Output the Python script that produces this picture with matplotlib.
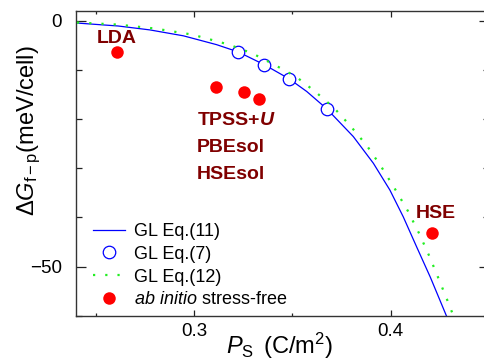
import numpy as np
import matplotlib
matplotlib.use("Agg")
import matplotlib.pyplot as plt

plt.rcParams["font.family"] = ["Liberation Sans", "DejaVu Sans"]
plt.rcParams["mathtext.fontset"] = "custom"
plt.rcParams["mathtext.rm"] = "Liberation Sans"
plt.rcParams["mathtext.it"] = "Liberation Sans:italic"
plt.rcParams["mathtext.bf"] = "Liberation Sans:bold"
plt.rcParams["mathtext.bfit"] = "Liberation Sans:italic:bold"

# --- data -------------------------------------------------------------------
# GL Eq.(11): solid curve
p_eq11 = [0.2405, 0.2614, 0.2776, 0.2946, 0.3115, 0.3225, 0.3357, 0.3483, 0.3573,
          0.3675, 0.3810, 0.3912, 0.3996, 0.4064, 0.4132, 0.4202, 0.4284]
g_eq11 = [-0.45, -1.05, -1.85, -3.05, -4.85, -6.33, -8.92, -11.78, -14.37,
          -17.90, -23.55, -28.98, -34.43, -39.88, -45.99, -52.20, -60.08]

# GL Eq.(7): open circles
p_eq7 = [0.3225, 0.3357, 0.3483, 0.3675]
g_eq7 = [-6.33, -8.92, -11.78, -17.90]

# GL Eq.(12): dotted curve
p_eq12 = [0.2405, 0.2612, 0.2802, 0.2991, 0.3178, 0.3296, 0.3408, 0.3519, 0.3619,
          0.3713, 0.3798, 0.3880, 0.3954, 0.4022, 0.4087, 0.4144, 0.4196, 0.4245,
          0.4293, 0.4322]
g_eq12 = [-0.35, -0.76, -1.57, -2.80, -4.84, -6.61, -8.92, -11.37, -14.49,
          -17.76, -21.51, -25.45, -29.80, -34.22, -38.65, -43.20, -47.83, -52.59,
          -57.34, -60.35]

# ab initio stress-free results
p_abi = [0.2607, 0.3110, 0.3253, 0.3332, 0.4211]
g_abi = [-6.41, -13.55, -14.49, -15.92, -43.14]

DARKRED = "#800000"

fig = plt.figure(figsize=(4.85, 3.63), dpi=100)
ax = fig.add_axes([76 / 485, 1 - 315.7 / 363, 413 / 485, 304.7 / 363])

ax.plot(p_eq11, g_eq11, color="#0000ff", lw=0.9, label="GL Eq.(11)", zorder=2)
ax.plot(p_eq7, g_eq7, ls="none", marker="o", ms=9, mfc="white", mec="#0000ff",
        mew=0.9, label="GL Eq.(7)", zorder=3)
ax.plot(p_eq12, g_eq12, color="#22ee22", lw=1.6, ls=(0, (1, 4.5)),
        label="GL Eq.(12)", zorder=4)
ax.plot(p_abi, g_abi, ls="none", marker="o", ms=9, color="#ff0000", mec="none",
        label=r"$\mathit{ab\ initio}$ stress-free", zorder=5)

kw = dict(color=DARKRED, fontsize=14, fontweight="bold")
ax.text(0.2606, -3.51, "LDA", ha="center", va="center", **kw)
ax.text(0.3015, -20.35, r"TPSS+$\mathbfit{U}$", ha="left", va="center", **kw)
ax.text(0.3015, -25.86, "PBEsol", ha="left", va="center", **kw)
ax.text(0.3015, -31.37, "HSEsol", ha="left", va="center", **kw)
ax.text(0.4230, -39.12, "HSE", ha="center", va="center", **kw)

ax.set_xlim(0.24, 0.45)
ax.set_ylim(-60, 2)
ax.set_xticks([0.3, 0.4])
ax.set_xticklabels(["0.3", "0.4"])
ax.set_xticks([0.25, 0.35, 0.45], minor=True)
ax.set_yticks([0, -50])
ax.set_yticklabels(["0", "\u221250"])
ax.set_yticks([-10, -20, -30, -40, -60], minor=True)
ax.tick_params(axis="both", which="both", direction="in", top=True, right=True,
               width=0.9, colors="#222222", labelsize=13.5, labelcolor="black")
ax.tick_params(axis="x", which="major", length=4.3, pad=5)
ax.tick_params(axis="x", which="minor", length=2)
ax.tick_params(axis="y", which="major", length=7.3, pad=10)
ax.tick_params(axis="y", which="minor", length=4)
for s in ax.spines.values():
    s.set_color("#333333")
    s.set_linewidth(1.0)

fig.text(280 / 485, 1 - 346 / 363, r"$P_{\mathrm{S}}$ $\,$(C/m$^2$)", fontsize=17,
         ha="center", va="center")
fig.text(29 / 485, 1 - 131 / 363, r"$\mathit{\Delta G}_{\mathrm{f-p}}$(meV/cell)",
         fontsize=17, rotation=90, ha="center", va="center")

ax.legend(loc="upper left", bbox_to_anchor=((93 - 76) / 413, (315.7 - 223) / 304.7),
          frameon=False, fontsize=13, borderpad=0, borderaxespad=0,
          handlelength=1.8, handletextpad=0.45, labelspacing=0.32, numpoints=1)

fig.savefig("out.png", dpi=100)
